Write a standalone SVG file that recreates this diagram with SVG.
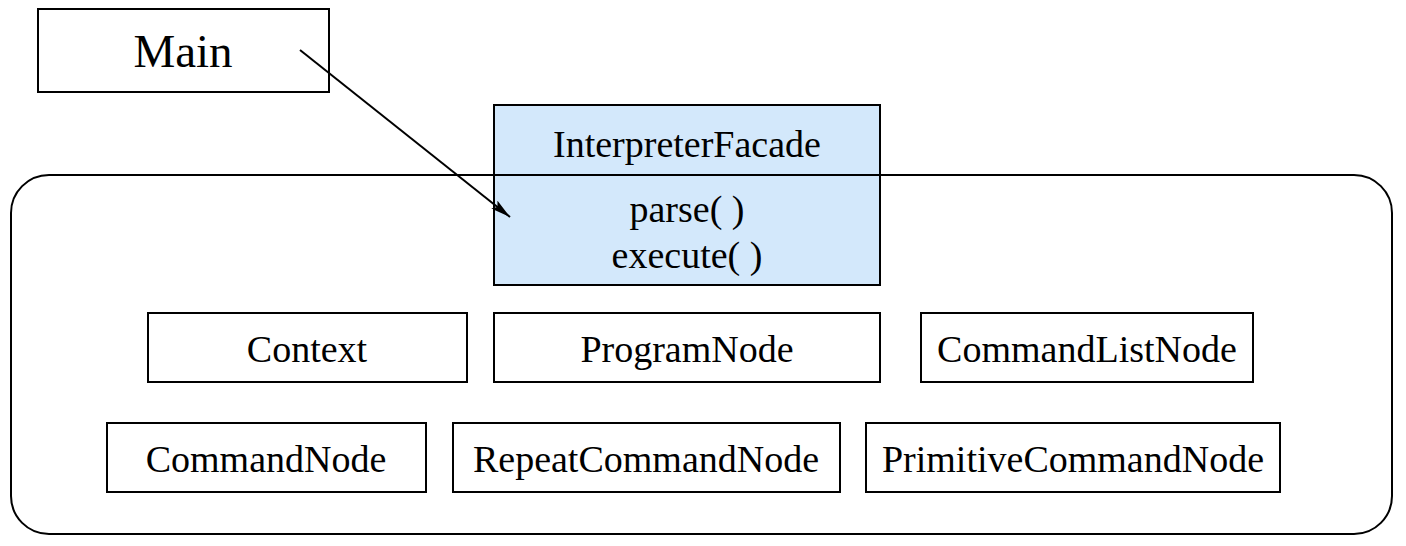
<svg xmlns="http://www.w3.org/2000/svg" width="1406" height="546" viewBox="0 0 1406 546">
<style>
.box{fill:#ffffff;stroke:#000;stroke-width:2}
.facade{fill:#d3e8fb;stroke:#000;stroke-width:2}
.lbl{font-family:'Liberation Serif',serif;font-size:38px;fill:#000;text-anchor:middle}
.big{font-size:47px}
.conn{stroke:#000;stroke-width:2;fill:none}
</style>
<defs>
<marker id="arrow" viewBox="0 0 20 10" refX="20" refY="5" markerWidth="20" markerHeight="10" markerUnits="userSpaceOnUse" orient="auto">
<path d="M0,0 L20,5 L0,10 L4,5 Z" fill="#000"/>
</marker>
</defs>
<rect x="0" y="0" width="1406" height="546" fill="#fff"/>
<g id="package">
<rect x="11" y="175" width="1381" height="359" rx="38" ry="38" fill="none" stroke="#000" stroke-width="2"/>
</g>
<g id="main">
<rect class="box" x="38" y="9" width="291" height="83"/>
<text class="lbl big" x="183" y="67" font-family="Liberation Serif, serif">Main</text>
</g>
<g id="interpreterFacade">
<rect class="facade" x="494" y="105" width="386" height="180"/>
<line x1="494" y1="175" x2="880" y2="175" stroke="#000" stroke-width="2"/>
<text class="lbl" x="687" y="157" font-family="Liberation Serif, serif">InterpreterFacade</text>
<text class="lbl" x="687" y="222" font-family="Liberation Serif, serif">parse( )</text>
<text class="lbl" x="687" y="268" font-family="Liberation Serif, serif">execute( )</text>
</g>
<g id="context">
<rect class="box" x="148" y="313" width="319" height="69"/>
<text class="lbl" x="307" y="362" font-family="Liberation Serif, serif">Context</text>
</g>
<g id="programNode">
<rect class="box" x="494" y="313" width="386" height="69"/>
<text class="lbl" x="687" y="362" font-family="Liberation Serif, serif">ProgramNode</text>
</g>
<g id="commandListNode">
<rect class="box" x="921" y="313" width="332" height="69"/>
<text class="lbl" x="1087" y="362" font-family="Liberation Serif, serif">CommandListNode</text>
</g>
<g id="commandNode">
<rect class="box" x="107" y="423" width="319" height="69"/>
<text class="lbl" x="266" y="472" font-family="Liberation Serif, serif">CommandNode</text>
</g>
<g id="repeatCommandNode">
<rect class="box" x="453" y="423" width="387" height="69"/>
<text class="lbl" x="646" y="472" font-family="Liberation Serif, serif">RepeatCommandNode</text>
</g>
<g id="primitiveCommandNode">
<rect class="box" x="866" y="423" width="414" height="69"/>
<text class="lbl" x="1073" y="472" font-family="Liberation Serif, serif">PrimitiveCommandNode</text>
</g>
<g id="connectors">
<line class="conn" x1="300" y1="50" x2="510" y2="217" marker-end="url(#arrow)"/>
</g>
</svg>
